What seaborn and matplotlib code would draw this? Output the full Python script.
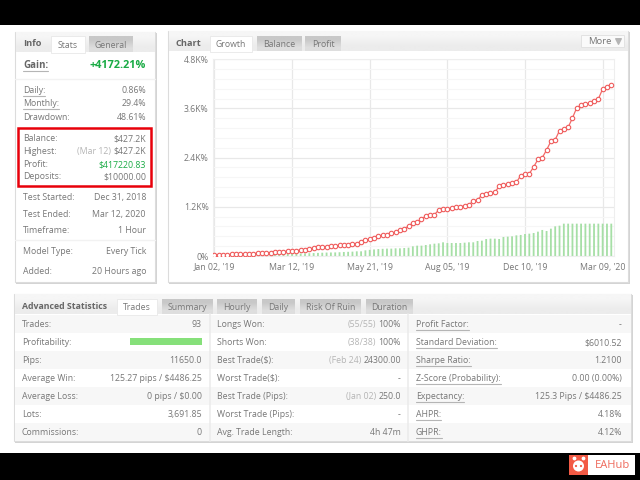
import numpy as np
import pandas as pd
import seaborn as sns
import matplotlib.pyplot as plt
from matplotlib.patches import Rectangle, Circle

growth = [16, 16, 16, 24, 41, 41, 41, 41, 49, 57, 65, 65, 73, 81, 98, 98, 106, 114, 122, 130,
          146, 155, 163, 203, 212, 228, 228, 236, 236, 268, 268, 277, 285, 301, 350, 390, 407,
          447, 480, 504, 513, 553, 578, 643, 659, 733, 806, 822, 895, 977, 993, 1009, 1123,
          1139, 1155, 1163, 1188, 1204, 1221, 1237, 1351, 1367, 1489, 1505, 1530, 1554, 1700,
          1725, 1749, 1773, 1798, 1961, 1994, 2010, 2172, 2359, 2400, 2587, 2799, 2840, 3059,
          3099, 3140, 3368, 3620, 3677, 3701, 3734, 3783, 3832, 4076, 4133, 4172]
load = [4, 6, 8, 10, 12, 14, 16, 18, 20, 24, 28, 32, 34, 40, 42, 44, 48, 50, 54, 58,
        60, 64, 68, 72, 76, 80, 84, 86, 88, 92, 98, 102, 106, 114, 114, 138, 150,
        160, 170, 175, 180, 180, 187, 187, 195, 203, 236, 252, 252, 268, 285, 301, 309,
        334, 317, 317, 317, 317, 325, 334, 334, 366, 374, 415, 423, 423, 415, 464,
        472, 480, 504, 513, 537, 545, 561, 594, 635, 610, 667, 724, 740,
        789, 789, 789, 789, 789, 789, 789, 789, 789, 789, 789, 789]
date_labels = ["Jan 02, '19", "Mar 12, '19", "May 21, '19", "Aug 05, '19", "Dec 10, '19", "Mar 09, '20"]
date_index = [0, 18, 36, 54, 72, 90]
y_ticks = [0, 1200, 2400, 3600, 4800]
y_labels = ['0%', '1.2K%', '2.4K%', '3.6K%', '4.8K%']

info_rows = [
    ('Daily:', '', '0.86%', 90, True), ('Monthly:', '', '29.4%', 103, True),
    ('Drawdown:', '', '48.61%', 117, False),
    ('Balance:', '', '$427.2K', 138, False), ('Highest:', '(Mar 12)', '$427.2K', 151, False),
    ('Deposits:', '', '$10000.00', 176, False),
    ('Test Started:', '', 'Dec 31, 2018', 197, False), ('Test Ended:', '', 'Mar 12, 2020', 214, False),
    ('Timeframe:', '', '1 Hour', 230, False), ('Model Type:', '', 'Every Tick', 251, False),
    ('Added:', '', '20 Hours ago', 271, False),
]
col1 = [('Trades:', '', '93'), ('Profitability:', '', ''), ('Pips:', '', '11650.0'),
        ('Average Win:', '', '125.27 pips / $4486.25'), ('Average Loss:', '', '0 pips / $0.00'),
        ('Lots:', '', '3,691.85'), ('Commissions:', '', '0')]
col2 = [('Longs Won:', '(55/55)', '100%'), ('Shorts Won:', '(38/38)', '100%'),
        ('Best Trade($):', '(Feb 24)', '24300.00'), ('Worst Trade($):', '', '-'),
        ('Best Trade (Pips):', '(Jan 02)', '250.0'), ('Worst Trade (Pips):', '', '-'),
        ('Avg. Trade Length:', '', '4h 47m')]
col3 = [('Profit Factor:', '', '-'), ('Standard Deviation:', '', '$6010.52'), ('Sharpe Ratio:', '', '1.2100'),
        ('Z-Score (Probability):', '', '0.00 (0.00%)'), ('Expectancy:', '', '125.3 Pips / $4486.25'),
        ('AHPR:', '', '4.18%'), ('GHPR:', '', '4.12%')]

sns.set_style('white')
plt.rcParams['font.family'] = ['Open Sans', 'DejaVu Sans']
TXT = '#777777'
FS = 6.3

fig = plt.figure(figsize=(6.4, 4.8), dpi=100, facecolor='black')
ui = fig.add_axes([0, 0, 1, 1], zorder=0)
ui.set_axis_off()
ui.set_xlim(0, 640)
ui.set_ylim(480, 0)


def box(x0, y0, x1, y1, color, edge='none', lw=0.8, z=1):
    ui.add_patch(Rectangle((x0, y0), x1 - x0, y1 - y0, fc=color, ec=edge, lw=lw, zorder=z))


def grad(x0, y0, x1, y1, top, bottom, z=2):
    c = np.array([plt.matplotlib.colors.to_rgb(top), plt.matplotlib.colors.to_rgb(bottom)])
    ui.imshow(c[:, None, :], extent=(x0, x1, y1, y0), aspect='auto', zorder=z, interpolation='bilinear')
    ui.set_xlim(0, 640)
    ui.set_ylim(480, 0)


def label(x, y, s, color=TXT, ha='left', size=FS, weight='normal', underline=False):
    t = ui.text(x, y + 0.5, s, color=color, ha=ha, va='center', fontsize=size, fontweight=weight, zorder=5)
    if underline:
        bb = t.get_window_extent(fig.canvas.get_renderer())
        ui.plot([bb.x0, bb.x1], [y + 5.5, y + 5.5], color='#b5b5b5', lw=0.8, zorder=5)
    return t


def value(x, y, s, prefix=''):
    t = label(x, y, s, ha='right')
    if prefix:
        bb = t.get_window_extent(fig.canvas.get_renderer())
        label(bb.x0 - 2, y, prefix, color='#b5b5b5', ha='right')


def panel(x0, y0, x1, y1, head):
    box(x0 + 1, y0 + 1, x1 + 1.5, y1 + 1.5, '#d4d4d4', z=1)
    box(x0, y0, x1, y1, 'white', edge='#dcdcdc', z=1.5)
    grad(x0 + 0.5, y0 + 0.5, x1 - 0.5, head, '#f6f6f6', '#ececec')


def tab(x0, x1, y0, y1, s, active=False):
    if active:
        box(x0, y0, x1, y1 + 1, 'white', edge='#e8e8e8', lw=0.6, z=3)
    else:
        grad(x0, y0, x1, y1, '#c8c8c8', '#dedede', z=3)
    label((x0 + x1) / 2, (y0 + y1) / 2 + 0.5, s, ha='center')


# page
box(0, 25, 640, 453, 'white', z=0.5)

# info panel
panel(15, 32, 155, 282, 52)
label(23, 43, 'Info', color='#666666', weight='bold', size=6.6)
tab(51, 85, 36, 52, 'Stats', True)
tab(89, 133, 36, 52, 'General')
label(23, 65, 'Gain:', color='#666666', weight='bold', size=7, underline=True)
label(146, 65, '+4172.21%', color='#1aab45', ha='right', weight='bold', size=7.8)
ui.plot([15, 155], [79, 79], color='#f2f2f2', lw=1, zorder=3)
ui.plot([15, 155], [240, 240], color='#f2f2f2', lw=1, zorder=3)
for name, pre, val, yy, under in info_rows:
    label(23, yy, name, underline=under)
    value(146, yy, val, pre)
label(23, 164, 'Profit:')
label(146, 164, '$417220.83', color='#1aab45', ha='right')
box(18, 128, 151, 186, 'none', edge='#e8000a', lw=1.8, z=4)

# chart panel
panel(168, 31, 628, 282, 51)
label(176, 43, 'Chart', color='#666666', weight='bold', size=6.6)
tab(210, 252, 36, 51, 'Growth', True)
tab(257, 302, 36, 51, 'Balance')
tab(305, 341, 36, 51, 'Profit')
box(581, 35, 624, 47, '#fafafa', edge='#e2e2e2', lw=0.7, z=3)
label(600, 41, 'More', ha='center', size=6.8)
ui.scatter([618], [41], marker='v', s=16, color='#b5b5b5', zorder=5)

# advanced statistics panel
panel(14, 294, 631, 441, 314)
label(22, 306, 'Advanced Statistics', color='#666666', weight='bold', size=6.3)
adv_tabs = ['Trades', 'Summary', 'Hourly', 'Daily', 'Risk Of Ruin', 'Duration']
adv_x = [(117, 157), (162, 213), (217, 257), (262, 295), (300, 361), (366, 413)]
for k, (nm, (a, b)) in enumerate(zip(adv_tabs, adv_x)):
    tab(a, b, 299, 314, nm, k == 0)
row_y = [324, 342, 360, 378, 396, 414, 432]
for k, yy in enumerate(row_y):
    box(15, yy - 9, 630.5, yy + 9, '#f7f7f7' if k % 2 == 0 else '#ffffff', z=2)
    label(22, yy, col1[k][0])
    value(202, yy, col1[k][2], col1[k][1])
    label(217, yy, col2[k][0])
    value(401, yy, col2[k][2], col2[k][1])
    label(416, yy, col3[k][0], underline=True)
    value(622, yy, col3[k][2], col3[k][1])
box(130, 338, 202, 345, '#86e07a', z=4)
ui.plot([210, 210], [314, 441], color='#ececec', lw=1.2, zorder=3)
ui.plot([408, 408], [314, 441], color='#ececec', lw=1.2, zorder=3)

# watermark
box(569, 455, 635, 475, 'white', z=2)
box(569, 455, 588, 475, '#f25a45', z=3)
ui.add_patch(Circle((578.5, 466), 5.5, fc='white', ec='none', zorder=4))
ui.add_patch(Circle((576, 466), 1.1, fc='#f25a45', ec='none', zorder=5))
ui.add_patch(Circle((581, 466), 1.1, fc='#f25a45', ec='none', zorder=5))
ui.scatter([574, 583], [458, 458], s=3, color='white', zorder=4)
label(595, 465, 'EAHub', color='#ef6a5c', size=8)

# growth chart
df = pd.DataFrame({'i': np.arange(len(growth)), 'growth': growth, 'load': load})
ax = fig.add_axes([212.7 / 640, (480 - 256) / 480, (614.3 - 212.7) / 640, (256 - 59.3) / 480], zorder=2)
ax.set_facecolor('none')
sns.barplot(data=df, x='i', y='load', color='#a6dfa6', saturation=1, width=0.42, ax=ax, zorder=2)
for p in ax.patches:
    p.set_snap(False)
    p.set_linewidth(0)
sns.lineplot(data=df, x='i', y='growth', color='#f36a68', lw=0.9, marker='o', ms=3.2, mfc='white',
             mec='#ef5b5b', mew=0.8, ax=ax, zorder=3)
ax.set_xlim(-0.4, 92.7)
ax.set_ylim(0, 4800)
ax.set_xticks(date_index, date_labels)
ax.set_yticks(y_ticks, y_labels)
ax.set_yticks(np.arange(0, 4801, 240), minor=True)
ax.grid(True, which='major', color='#e8e8e8', lw=0.9, zorder=0)
ax.grid(True, which='minor', axis='y', color='#f6f6f6', lw=0.8, zorder=0)
ax.set_axisbelow(True)
ax.set_xlabel('')
ax.set_ylabel('')
ax.tick_params(axis='both', which='both', length=0, colors='#777777', labelsize=6.3)
ax.tick_params(axis='x', pad=5)
ax.tick_params(axis='y', pad=3)
for s in ax.spines.values():
    s.set_color('#eeeeee')
    s.set_linewidth(0.8)

fig.savefig('out.png', dpi=100, facecolor='black')
